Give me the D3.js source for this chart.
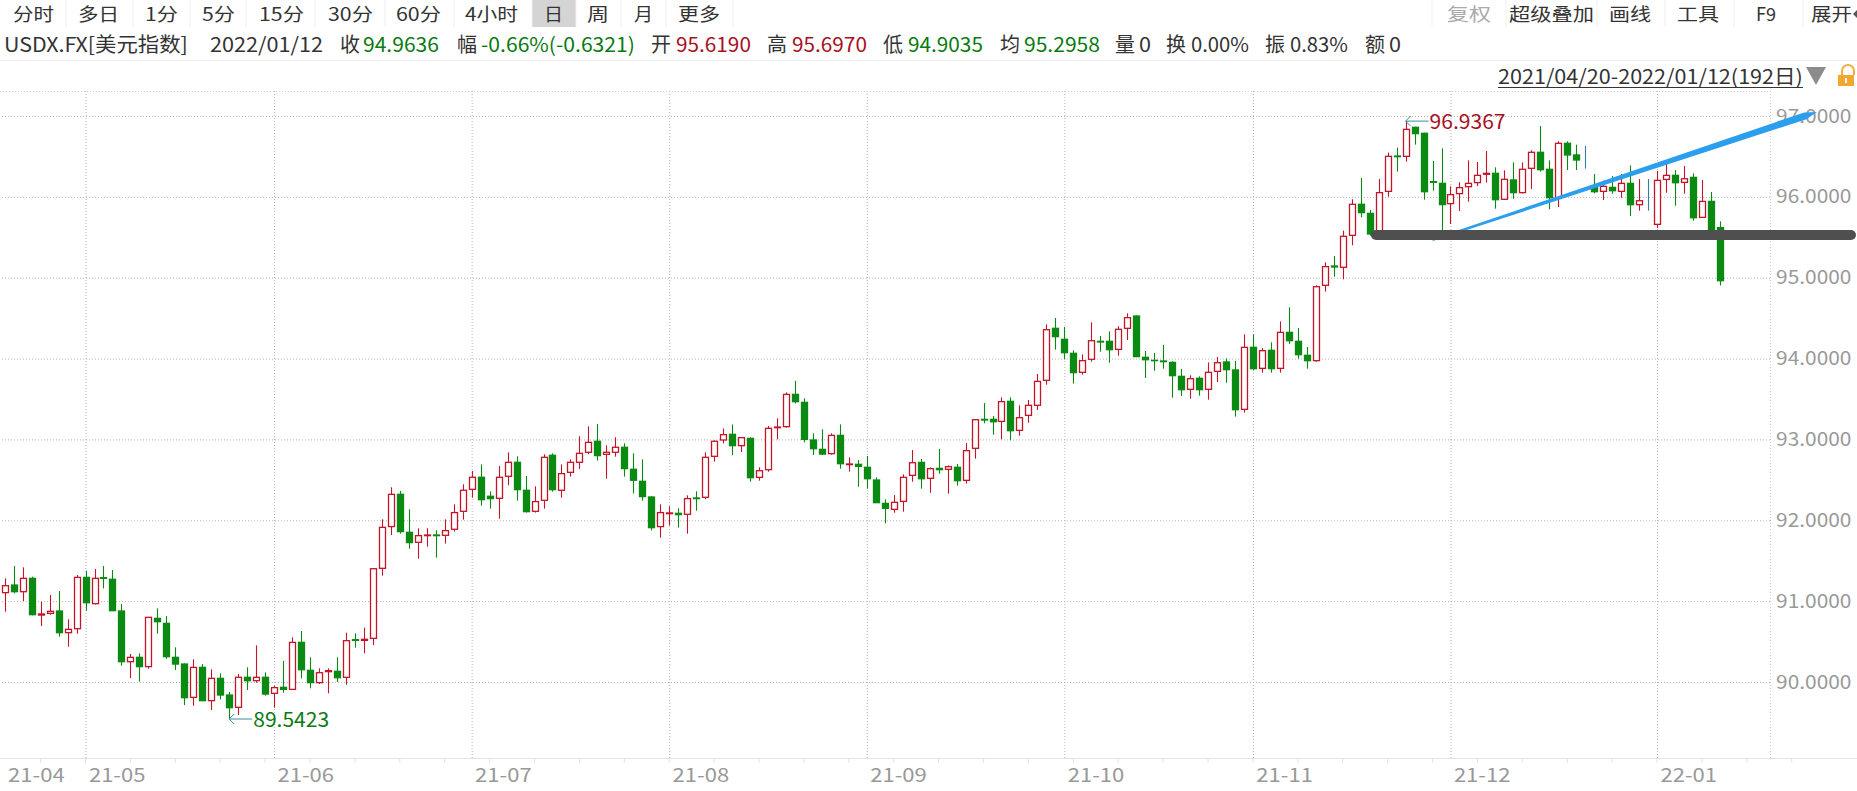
<!DOCTYPE html>
<html>
<head>
<meta charset="utf-8">
<title>USDX.FX</title>
<script src="https://cdn.jsdelivr.net/npm/d3@7"></script>
<style>
    html, body { margin: 0; padding: 0; background: #fff; overflow: hidden; }
    svg { display: block; }
    text { font-family: "Noto Sans CJK SC", "Noto Sans", sans-serif; font-size: 20px; }
    .toolbar text { font-size: 18px; }
    .axis text { fill: #999; font-size: 19px; }
    .axis .domain { display: none; }
    .grid line { stroke: #b4b4b4; stroke-dasharray: 1 2; }
</style>
</head>
<body>
<div id="chart"></div>
<script>
// daily candles 2021/04/20 - 2022/01/12
const opens = [
    91.105,91.199,91.117,91.282,90.828,90.849,90.878,90.610,90.659,91.294,
    90.969,91.290,91.270,90.878,90.251,90.305,90.190,90.787,90.725,90.305,
    90.222,89.810,90.181,89.769,90.045,89.839,89.687,90.058,90.016,90.058,
    89.860,89.934,89.909,90.490,90.144,89.992,90.128,90.132,90.058,90.523,
    90.515,90.540,91.406,91.922,92.321,91.851,91.728,91.810,91.818,91.814,
    91.889,92.111,92.383,92.532,92.297,92.272,92.544,92.717,92.371,92.111,
    92.247,92.804,92.371,92.593,92.717,92.841,92.977,92.816,92.841,92.903,
    92.631,92.482,92.288,91.922,92.082,92.086,92.074,92.276,92.284,92.791,
    92.993,93.063,92.923,93.013,92.531,92.626,93.145,93.158,93.557,93.458,
    92.993,92.877,92.824,93.050,92.688,92.692,92.655,92.498,92.209,92.135,
    92.234,92.556,92.716,92.519,92.642,92.630,92.655,92.494,92.890,93.248,
    93.248,93.223,93.471,93.112,93.298,93.422,93.731,94.374,94.238,94.065,
    93.830,93.991,94.213,94.213,94.114,94.374,94.526,94.015,93.978,93.970,
    93.953,93.780,93.620,93.756,93.620,93.842,93.958,93.859,93.372,94.139,
    93.879,94.102,93.879,94.324,94.213,94.040,93.974,94.906,95.145,95.129,
    95.524,95.908,95.796,95.549,96.068,96.505,96.501,96.860,96.786,96.188,
    96.167,95.916,96.040,96.126,96.176,96.279,96.291,95.970,96.209,96.052,
    96.353,96.551,96.341,95.990,96.662,96.518,96.452,96.113,96.068,96.117,
    96.068,96.167,95.903,95.961,95.660,96.216,96.266,96.179,96.241,95.746,
    95.944,95.6190
]
const closes = [
    91.191,91.117,91.282,90.833,90.841,90.874,90.610,90.651,91.294,90.981,
    91.282,91.282,90.882,90.251,90.305,90.190,90.800,90.746,90.313,90.222,
    89.806,90.181,89.769,90.045,89.839,89.682,90.058,90.016,90.058,89.851,
    89.930,89.909,90.490,90.152,89.992,90.115,90.140,90.053,90.511,90.515,
    90.528,91.401,91.913,92.321,91.860,91.724,91.810,91.818,91.810,91.872,
    92.095,92.371,92.532,92.255,92.268,92.532,92.717,92.379,92.107,92.231,
    92.779,92.379,92.577,92.717,92.828,92.964,92.800,92.841,92.903,92.639,
    92.495,92.293,91.909,92.095,92.091,92.070,92.268,92.268,92.779,92.977,
    93.059,92.923,93.022,92.527,92.613,93.137,93.153,93.557,93.467,93.001,
    92.885,92.819,93.050,92.700,92.696,92.667,92.514,92.218,92.148,92.222,
    92.531,92.712,92.514,92.638,92.626,92.663,92.490,92.861,93.244,93.240,
    93.219,93.467,93.108,93.269,93.422,93.718,94.357,94.271,94.073,93.826,
    93.974,94.221,94.205,94.110,94.362,94.506,94.024,93.986,93.974,93.962,
    93.789,93.615,93.751,93.615,93.830,93.949,93.863,93.368,94.139,93.875,
    94.098,93.875,94.324,94.221,94.048,93.974,94.889,95.137,95.133,95.512,
    95.908,95.805,95.541,96.052,96.501,96.497,96.835,96.782,96.064,96.180,
    95.904,96.027,96.114,96.167,96.266,96.291,95.965,96.217,96.052,96.341,
    96.551,96.336,95.990,96.662,96.518,96.456,96.452,96.064,96.130,96.076,
    96.167,95.903,95.952,95.961,96.204,96.266,96.175,96.224,95.742,95.944,
    95.5957,94.9636
]
const highs = [
    91.282,91.434,91.418,91.303,90.993,91.076,91.125,90.775,91.323,91.377,
    91.397,91.434,91.385,90.965,90.346,90.354,90.805,90.911,90.816,90.429,
    90.231,90.280,90.222,90.157,90.107,89.876,90.099,90.181,90.453,90.119,
    89.955,90.260,90.552,90.631,90.305,90.169,90.169,90.305,90.610,90.602,
    90.672,91.406,92.012,92.408,92.363,92.136,91.901,91.901,91.876,92.012,
    92.198,92.445,92.610,92.692,92.358,92.672,92.841,92.791,92.548,92.420,
    92.816,92.828,92.692,92.754,93.039,93.162,93.191,92.927,93.026,92.952,
    92.828,92.754,92.297,92.198,92.173,92.148,92.309,92.358,92.841,92.989,
    93.137,93.186,93.025,93.026,92.655,93.166,93.261,93.582,93.722,93.508,
    93.075,93.125,93.075,93.186,92.778,92.745,92.795,92.531,92.259,92.312,
    92.568,92.869,92.758,92.655,92.881,92.679,92.696,92.956,93.248,93.450,
    93.289,93.520,93.520,93.421,93.488,93.809,94.423,94.502,94.390,94.102,
    94.052,94.448,94.279,94.337,94.399,94.559,94.535,94.094,94.069,94.168,
    93.966,93.871,93.793,93.780,93.953,94.019,94.003,93.970,94.300,94.300,
    94.131,94.201,94.460,94.634,94.378,94.143,94.906,95.190,95.269,95.582,
    95.970,96.233,95.838,96.221,96.547,96.609,96.9367,96.868,96.794,96.444,
    96.600,96.130,96.180,96.452,96.431,96.567,96.365,96.328,96.427,96.427,
    96.576,96.876,96.452,96.687,96.687,96.646,96.629,96.282,96.200,96.257,
    96.282,96.389,96.220,96.220,96.319,96.406,96.332,96.381,96.290,96.208,
    96.060,95.6970
]
const lows = [
    90.870,91.096,91.002,90.824,90.692,90.833,90.561,90.437,90.598,90.882,
    90.960,91.158,90.880,90.202,90.049,90.004,90.165,90.598,90.288,90.148,
    89.715,89.707,89.765,89.654,89.786,89.5423,89.592,89.901,89.992,89.831,
    89.682,89.868,89.905,90.045,89.922,89.975,89.860,90.000,89.967,90.424,
    90.354,90.457,91.316,91.818,91.835,91.649,91.526,91.674,91.538,91.711,
    91.860,92.008,92.280,92.181,92.144,92.020,92.433,92.243,92.095,92.095,
    92.144,92.354,92.280,92.540,92.635,92.816,92.738,92.515,92.787,92.540,
    92.330,92.243,91.876,91.785,91.934,91.909,91.835,92.119,92.260,92.725,
    92.951,92.807,92.844,92.477,92.490,92.601,93.001,93.145,93.446,92.964,
    92.807,92.807,92.811,92.638,92.601,92.416,92.391,92.215,91.962,92.094,
    92.106,92.477,92.391,92.341,92.576,92.329,92.428,92.453,92.762,93.199,
    93.059,93.001,92.989,93.046,93.207,93.364,93.677,94.110,93.991,93.690,
    93.801,93.962,94.085,93.949,94.036,94.230,94.020,93.760,93.850,93.875,
    93.516,93.537,93.504,93.541,93.492,93.710,93.702,93.282,93.331,93.859,
    93.826,93.826,93.826,94.180,93.999,93.875,93.962,94.828,95.013,94.980,
    95.401,95.747,95.520,95.520,96.003,96.312,96.435,96.646,95.965,96.077,
    95.530,95.664,95.825,95.941,96.134,96.176,95.854,95.961,95.978,96.044,
    96.097,96.312,95.846,95.875,96.332,96.332,96.349,96.043,95.961,96.039,
    95.989,95.763,95.829,95.829,95.614,96.051,95.891,96.039,95.705,95.742,
    95.580,94.9035
]

// first candle of each month and its label
const monthIndex = [0, 9, 30, 52, 74, 96, 118, 139, 161, 184]
const monthLabels = ['21-04','21-05','21-06','21-07','21-08','21-09','21-10','21-11','21-12','22-01']
const priceTicks = [90, 91, 92, 93, 94, 95, 96, 97]

const tabLabels = ['分时','多日','1分','5分','15分','30分','60分','4小时','日','周','月','更多']
const tabX = [13, 78, 145, 202, 259, 328, 396, 465, 544, 587, 634, 678]
const tabW = [41, 41, 33, 33, 45, 45, 45, 53, 19, 22, 19, 42]
const tabEdges = [66, 133, 190, 246, 315, 385, 454, 532, 576, 621, 666, 733]
const toolLabels = ['复权','超级叠加','画线','工具','F9','展开']
const toolX = [1447, 1509, 1609, 1677, 1756, 1811]
const toolW = [44, 85, 42, 42, 20, 41]
const toolEdges = [1432, 1506, 1597, 1665, 1734, 1803]

const infoText = ['USDX.FX[美元指数]','2022/01/12','收','94.9636','幅','-0.66%(-0.6321)','开','95.6190','高','95.6970','低','94.9035','均','95.2958','量','0','换','0.00%','振','0.83%','额','0']
const infoX = [4, 210, 340, 363, 457, 481, 651, 676, 767, 792, 883, 908, 1000, 1024, 1115, 1139, 1166, 1191, 1265, 1290, 1365, 1389]
const infoW = [184, 113, 20, 76, 20, 154, 20, 75, 20, 75, 20, 75, 20, 76, 20, 12, 20, 58, 20, 58, 20, 12]
const infoKind = ['t','t','t','down','t','down','t','up','t','up','t','down','t','down','t','t','t','t','t','t','t','t']

// drawn lines, in candle index and price
const supportLine = { from: [152.7, 95.528], to: [205.6, 95.528] }
const trendLine = { from: [159, 95.466], to: [201.8, 97.05] }
const maxMark = { i: 156, price: 96.9367 }
const minMark = { i: 25, price: 89.5423 }

const width = 1857
const height = 791
const plot = { top: 91, bottom: 758, right: 1770 }
const upColor = '#c4142a'
const downColor = '#0a8a12'
const flatColor = '#2f7fa8'
const colors = { t: '#333', up: '#a8101f', down: '#0a7a12' }

const svg = d3.select('#chart').append('svg')
    .attr('width', width)
    .attr('height', height)

const xScale = d3.scaleLinear().domain([0, 191]).range([4.7, 1719.9])
const yScale = d3.scaleLinear().domain([90, 97]).range([682, 116])

function label(parent, x, y, str, color, w) {
    const t = parent.append('text')
        .attr('fill', color)
        .text(str)
    const sx = w / t.node().getComputedTextLength()
    t.attr('transform', `translate(${x}, ${y}) scale(${sx}, 1)`)
    return t
}

function drawHeader() {
    const head = svg.append('g')
    // selected tab
    head.append('rect')
        .attr('x', tabEdges[7]).attr('y', 0)
        .attr('width', tabEdges[8] - tabEdges[7]).attr('height', 27)
        .attr('fill', '#d4d4d4')
    head.selectAll('.tab-edge')
        .data(tabEdges.concat(toolEdges))
        .enter().append('line')
        .attr('class', 'tab-edge')
        .attr('x1', d => d).attr('x2', d => d)
        .attr('y1', 0).attr('y2', 27)
        .attr('stroke', '#f0f0f0')
    const toolbar = head.append('g').attr('class', 'toolbar')
    tabLabels.forEach((d, i) => label(toolbar, tabX[i], 21, d, '#333', tabW[i]))
    toolLabels.forEach((d, i) => label(toolbar, toolX[i], 21, d, i === 0 ? '#aaa' : '#333', toolW[i]))
    // the collapse arrow is cut by the window edge
    head.append('path').attr('d', 'M1853,14 L1857,10 L1857,18 Z').attr('fill', '#555')
    infoText.forEach((d, i) => label(head, infoX[i], 52, d, colors[infoKind[i]], infoW[i]))
    head.append('line')
        .attr('x1', 0).attr('x2', width)
        .attr('y1', 60.5).attr('y2', 60.5)
        .attr('stroke', '#eee')

    // date range, drop arrow, lock
    label(head, 1498, 84, '2021/04/20-2022/01/12(192日)', '#333', 305)
    head.append('line')
        .attr('x1', 1498).attr('x2', 1803)
        .attr('y1', 87.5).attr('y2', 87.5)
        .attr('stroke', '#333')
    head.append('path').attr('d', 'M1806,67 L1826,67 L1816,85 Z').attr('fill', '#8c8c8c')
    head.append('path').attr('d', 'M1842,75 L1842,71 A6,6 0 0 1 1854,71 L1854,75')
        .attr('fill', 'none').attr('stroke', '#f0b040').attr('stroke-width', 2)
    head.append('rect').attr('x', 1838).attr('y', 75).attr('width', 16).attr('height', 11).attr('fill', '#f0a830')
    head.append('rect').attr('x', 1845).attr('y', 78).attr('width', 2).attr('height', 5).attr('fill', '#fff')
}

function drawAxes() {
    const yAxis = svg.append('g')
        .attr('class', 'axis grid')
        .attr('transform', `translate(${plot.right}, 0)`)
        .call(d3.axisRight(yScale)
            .tickValues(priceTicks)
            .tickFormat(d3.format('.4f'))
            .tickSize(-plot.right)
            .tickPadding(6))
    yAxis.selectAll('text').attr('transform', 'scale(1.1, 1)').attr('x', 5.5)

    const xAxis = svg.append('g')
        .attr('class', 'axis grid')
        .attr('transform', `translate(0, ${plot.bottom})`)
        .call(d3.axisBottom(xScale)
            .tickValues(monthIndex)
            .tickFormat((d, i) => monthLabels[i])
            .tickSize(-(plot.bottom - plot.top))
            .tickPadding(0))
    xAxis.selectAll('.tick').filter(d => d === 0).select('line').remove()
    xAxis.selectAll('text')
        .attr('text-anchor', 'start')
        .attr('y', 24)
        .attr('dy', 0)
        .attr('transform', 'scale(1.16, 1)')
        .attr('x', 2.5)

    // frame: top dotted line, right edge, bottom rule and its small ticks
    const frame = svg.append('g')
    frame.append('line')
        .attr('x1', 0).attr('x2', plot.right)
        .attr('y1', plot.top + .5).attr('y2', plot.top + .5)
        .attr('stroke', '#ccc').attr('stroke-dasharray', '1 2')
    frame.append('line')
        .attr('x1', plot.right + .5).attr('x2', plot.right + .5)
        .attr('y1', plot.top).attr('y2', plot.bottom)
        .attr('stroke', '#ccc').attr('stroke-dasharray', '1 2')
    frame.append('line')
        .attr('x1', 0).attr('x2', width)
        .attr('y1', plot.bottom + .5).attr('y2', plot.bottom + .5)
        .attr('stroke', '#e6e2e6')
    frame.selectAll('.small-tick')
        .data(d3.range(-1, 200, 5))
        .enter().append('line')
        .attr('class', 'small-tick')
        .attr('x1', d => xScale(d)).attr('x2', d => xScale(d))
        .attr('y1', plot.bottom).attr('y2', plot.bottom + 5)
        .attr('stroke', '#e6e2e6')
}

function drawCandles() {
    const candleColor = i => closes[i] > opens[i] ? upColor : closes[i] < opens[i] ? downColor : flatColor
    const cx = i => Math.round(xScale(i)) + .5

    const candles = svg.append('g').selectAll('.candle')
        .data(d3.range(opens.length))
        .enter().append('g')
        .attr('class', 'candle')

    candles.append('line')
        .attr('x1', cx).attr('x2', cx)
        .attr('y1', i => yScale(highs[i]))
        .attr('y2', i => yScale(lows[i]))
        .attr('stroke', candleColor)
        .attr('stroke-width', 1.1)

    candles.append('rect')
        .attr('x', i => cx(i) - 3)
        .attr('width', 6)
        .attr('y', i => yScale(Math.max(opens[i], closes[i])))
        .attr('height', i => Math.abs(yScale(opens[i]) - yScale(closes[i])))
        .attr('fill', i => closes[i] > opens[i] ? '#fff' : candleColor(i))
        .attr('stroke', candleColor)
        .attr('stroke-width', 1.3)
}

function drawMarks() {
    const marks = svg.append('g')
    const lineColor = '#3b8d9c'

    // arrow from the extreme candle to its value
    ;[[maxMark, colors.up], [minMark, colors.down]].forEach(([m, color]) => {
        const x0 = xScale(m.i), y0 = yScale(m.price)
        marks.append('path')
            .attr('d', `M${x0 + 5},${y0 - 5} L${x0},${y0} L${x0 + 5},${y0 + 5} M${x0},${y0} L${x0 + 23},${y0}`)
            .attr('fill', 'none')
            .attr('stroke', lineColor)
        label(marks, x0 + 24, y0 + 8, m.price.toFixed(4), color, 76)
    })

    // hand drawn trend line, thin at the start and wider toward its tip
    const ax = xScale(trendLine.from[0]), ay = yScale(trendLine.from[1])
    const bx = xScale(trendLine.to[0]), by = yScale(trendLine.to[1])
    const len = Math.hypot(bx - ax, by - ay)
    const nx = -(by - ay) / len, ny = (bx - ax) / len
    const neck = 0.97
    const sx = ax + (bx - ax) * neck, sy = ay + (by - ay) * neck
    marks.append('path')
        .attr('d', `M${ax + nx},${ay + ny} L${sx + nx * 3.6},${sy + ny * 3.6} L${bx},${by} L${sx - nx * 3.6},${sy - ny * 3.6} L${ax - nx},${ay - ny} Z`)
        .attr('fill', '#2b9fee')

    marks.append('line')
        .attr('x1', xScale(supportLine.from[0])).attr('x2', xScale(supportLine.to[0]))
        .attr('y1', yScale(supportLine.from[1])).attr('y2', yScale(supportLine.to[1]))
        .attr('stroke', '#4f4f4f')
        .attr('stroke-width', 10)
        .attr('stroke-linecap', 'round')
}

drawHeader()
drawAxes()
drawCandles()
drawMarks()
</script>
</body>
</html>
